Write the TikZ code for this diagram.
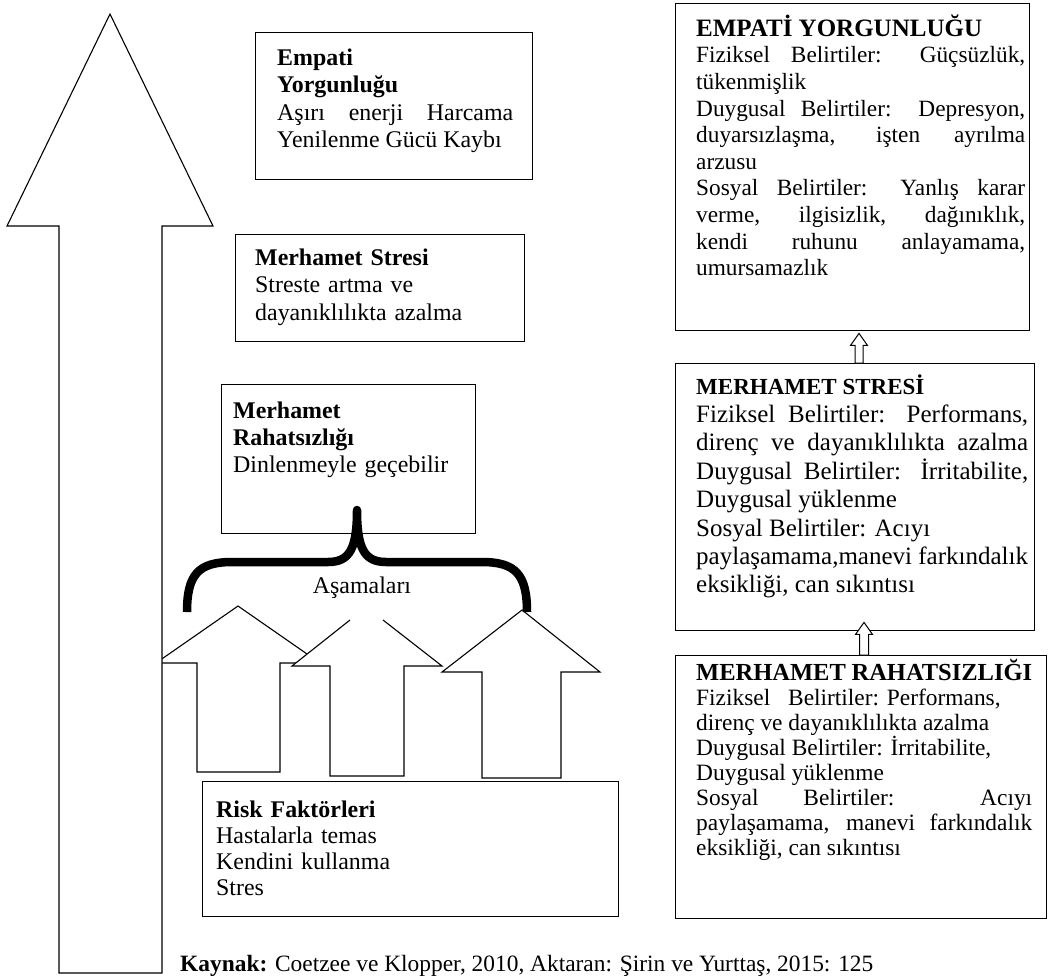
\documentclass[tikz,border=0pt]{standalone}
\usepackage{fontspec}
\setmainfont{Liberation Serif}
\usetikzlibrary{calc}
\newcommand\fsz[2]{\fontsize{#1}{#2}\selectfont}

\tikzset{
  frame/.style={draw=black, line width=1.4pt, fill=white, inner sep=0pt, anchor=north west},
  body/.style={inner sep=0pt, anchor=north west, align=left,
    execute at begin node={\setlength{\parindent}{0pt}}},
  outline/.style={draw=black, line width=1.1pt, fill=white, line join=miter},
  bracepen/.style={draw=black, line width=8.5pt, line join=round},
  smalltxt/.style={font=\fsz{23.9}{27.5}},
}

% hollow arrow pointing up: #1 bottom point, #2 tip, #3 head half width, #4 shaft half width
\newcommand\hollowup[4]{%
  \draw[outline, line width=1pt] (#2) -- ($(#2)+(#3,12)$) -- ($(#2)+(#4,12)$) -- ($(#1)+(#4,0)$)
    -- ($(#1)+(-#4,0)$) -- ($(#2)+(-#4,12)$) -- ($(#2)+(-#3,12)$) -- cycle;}

\begin{document}
\begin{tikzpicture}[x=1pt, y=-1pt]
\useasboundingbox (0,0) rectangle (1048,978);

% ---------- left column: stages ----------
\node[frame, minimum width=277pt, minimum height=147pt] (ly) at (255,32) {};
\node[body, smalltxt, text width=236pt, align=justify] (lyt) at (277,45.7)
  {\strut\textbf{Empati}\\ \textbf{Yorgunluğu}\\ Aşırı enerji Harcama\linebreak Yenilenme Gücü Kaybı};

\node[frame, minimum width=289pt, minimum height=107pt] (ls) at (235,234) {};
\node[body, smalltxt, text width=250pt] (lst) at (255,245.7)
  {\strut\textbf{Merhamet Stresi}\\ Streste artma ve\\ dayanıklılıkta azalma};

\node[frame, minimum width=254pt, minimum height=149pt] (lr) at (221,384) {};
\node[body, font=\fsz{23.9}{27}, text width=230pt] (lrt) at (233,399)
  {\strut\textbf{Merhamet}\\ \textbf{Rahatsızlığı}\\ Dinlenmeyle geçebilir};

% ---------- three rising arrows ----------
\draw[outline] (238,606) -- (320,663) -- (280,663) -- (280,772) -- (197,772) -- (197,663) -- (156,663) -- cycle;
\fill[white] (350,620) -- (292,666) -- (330,666) -- (330,776) -- (404,776) -- (404,666) -- (442,666) -- (383,620) -- cycle;
\draw[outline, fill=none] (350,620) -- (292,666) -- (330,666) -- (330,776) -- (404,776) -- (404,666) -- (442,666) -- (383,620);
\draw[outline] (522,610) -- (600,672) -- (561,672) -- (561,778) -- (482,778) -- (482,672) -- (442,672) -- cycle;

\node[font=\fsz{23.9}{27.5}, anchor=base, inner sep=0pt] (stg) at (362,593) {Aşamaları};

% ---------- risk factors ----------
\node[frame, minimum width=416pt, minimum height=135pt] (rk) at (202,781) {};
\node[body, font=\fsz{23.9}{26}, text width=380pt] (rkt) at (216,798.8)
  {\strut\textbf{Risk Faktörleri}\\ Hastalarla temas\\ Kendini kullanma\\ Stres};

% ---------- tall arrow ----------
\draw[outline] (110,14) -- (213,226) -- (162,226) -- (162,973) -- (59,973) -- (59,226) -- (7,226) -- cycle;

% ---------- brace ----------
\draw[bracepen] (187,612) .. controls (187,575) and (198,562) .. (232,562) -- (328,562)
  .. controls (350,562) and (357,548) .. (357,510)
  .. controls (357,548) and (364,562) .. (386,562) -- (482,562)
  .. controls (516,562) and (527,575) .. (527,612);

% ---------- right column: symptoms ----------
\node[frame, minimum width=354pt, minimum height=327pt] (ey) at (675,3) {};
\node[body, font=\fsz{23.3}{26.6}, text width=329pt, align=justify] (eyt) at (696,14.4)
  {\strut{\fsz{25}{26.6}\bfseries EMPATİ YORGUNLUĞU}\\
   Fiziksel Belirtiler: Güçsüzlük,\linebreak tükenmişlik\par
   Duygusal Belirtiler: Depresyon,\linebreak duyarsızlaşma, işten ayrılma\linebreak arzusu\par
   Sosyal Belirtiler: Yanlış karar\linebreak verme, ilgisizlik, dağınıklık,\linebreak kendi ruhunu anlayamama,\linebreak umursamazlık};

\node[frame, minimum width=359pt, minimum height=267pt] (ms) at (675,363) {};
\node[body, font=\fsz{25}{28.4}, text width=332pt, align=justify] (mst) at (696,374.1)
  {\strut{\fsz{23}{28.4}\bfseries MERHAMET STRESİ}\\
   Fiziksel Belirtiler: Performans,\linebreak direnç ve dayanıklılıkta azalma\linebreak
   Duygusal Belirtiler: İrritabilite,\linebreak Duygusal yüklenme\par
   Sosyal Belirtiler: Acıyı\\ \mbox{paylaşamama,manevi farkındalık}\\ eksikliği, can sıkıntısı};

\node[frame, minimum width=371pt, minimum height=263pt] (mr) at (675,655) {};
\node[body, font=\fsz{23.4}{25}, text width=336pt, align=justify] (mrt) at (696,659.5)
  {\strut{\fsz{24.5}{25}\bfseries MERHAMET RAHATSIZLIĞI}\\
   Fiziksel\hspace{12pt} Belirtiler: Performans,\\ direnç ve dayanıklılıkta azalma\\
   Duygusal Belirtiler: İrritabilite,\\ Duygusal yüklenme\par
   Sosyal Belirtiler: Acıyı\linebreak paylaşamama, manevi farkındalık\linebreak eksikliği, can sıkıntısı};

% links between the symptom boxes
\coordinate (c1) at (859,0);
\coordinate (c2) at (864,0);
\path (ms.north -| c1) coordinate (a1b) ($(ey.south -| c1)+(0,2)$) coordinate (a1t);
\path (mr.north -| c2) coordinate (a2b) ($(ms.south -| c2)+(0,-9)$) coordinate (a2t);
\hollowup{a1b}{a1t}{8.5}{4}
\hollowup{a2b}{a2t}{8.5}{4.5}

% ---------- source line ----------
\node[anchor=base west, inner sep=0pt, font=\fsz{23.4}{27}] (src) at (180,971)
  {\textbf{Kaynak:} Coetzee ve Klopper, 2010, Aktaran: Şirin ve Yurttaş, 2015: 125};
\end{tikzpicture}
\end{document}
